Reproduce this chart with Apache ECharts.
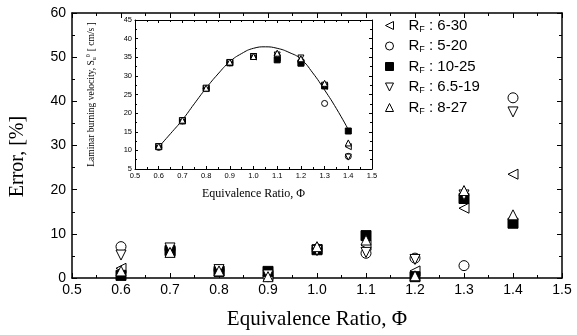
<!DOCTYPE html>
<html>
<head>
<meta charset="utf-8">
<script src="https://cdn.jsdelivr.net/npm/echarts@6/dist/echarts.min.js"></script>
<style>
  html, body { margin: 0; padding: 0; background: #fff; }
  #chart { width: 577px; height: 335px; }
</style>
</head>
<body>
<div id="chart"></div>
<script>
// equivalence ratio values shared by every series
const phi = [0.6, 0.7, 0.8, 0.9, 1.0, 1.1, 1.2, 1.3, 1.4];

// error [%] (main chart)
const err630 = [2.2, 6.0, 1.6, 0.5, 6.5, 7.4, 1.6, 15.8, 23.5];
const err520 = [7.1, 6.5, 1.8, 0.3, 6.6, 5.6, 4.5, 2.8, 40.8];
const err1025 = [0.6, 6.2, 1.5, 1.5, 6.4, 9.6, 0.3, 18.0, 12.4];
const err6519 = [5.2, 6.8, 1.9, 0.7, 6.2, 5.8, 4.2, 18.8, 37.6];
const err827 = [1.6, 5.8, 1.6, 0.3, 7.1, 8.6, 0.5, 19.8, 14.3];

// laminar burning velocity [cm/s] (inset)
const sl630 = [11.0, 18.0, 26.7, 33.6, 35.1, 34.8, 33.6, 27.2, 11.0];
const sl520 = [10.8, 17.9, 26.6, 33.5, 35.2, 35.5, 34.0, 22.6, 8.4];
const sl1025 = [11.0, 17.9, 26.6, 33.5, 35.2, 34.3, 33.4, 27.3, 15.2];
const sl6519 = [11.0, 18.0, 26.7, 33.6, 35.1, 35.6, 34.8, 27.5, 8.2];
const sl827 = [11.1, 18.1, 26.7, 33.7, 35.2, 36.1, 34.6, 28.0, 12.0];

// reference curve in the inset
const curvePhi = [0.6, 0.65, 0.7, 0.75, 0.8, 0.85, 0.9, 0.95, 1.0, 1.05, 1.1, 1.15, 1.2, 1.25, 1.3, 1.35, 1.4];
const curveS = [10.9, 14.5, 18.2, 22.5, 26.7, 30.5, 33.8, 36.0, 37.4, 37.8, 37.4, 36.3, 34.5, 30.8, 26.2, 21.2, 15.6];

const groups = [
  { name: "6-30", err: err630, sl: sl630, symbol: "path://M10,0 L0,5 L10,10 Z", fill: "#fff" },
  { name: "5-20", err: err520, sl: sl520, symbol: "circle", fill: "#fff" },
  { name: "10-25", err: err1025, sl: sl1025, symbol: "rect", fill: "#000" },
  { name: "6.5-19", err: err6519, sl: sl6519, symbol: "path://M0,0 L10,0 L5,10 Z", fill: "#fff" },
  { name: "8-27", err: err827, sl: sl827, symbol: "path://M5,0 L10,10 L0,10 Z", fill: "#fff" },
];

const zip = (xs, ys) => xs.map((x, i) => [x, ys[i]]);
const sans = "Liberation Sans, Arial, sans-serif";
const serif = "Liberation Serif, Times New Roman, serif";

const xAxisBase = (grid, big, pos) => ({
  gridIndex: grid,
  type: "value",
  position: pos,
  min: 0.5,
  max: 1.5,
  interval: 0.1,
  axisLine: { onZero: false, lineStyle: { color: "#000", width: big ? 1.5 : 1 } },
  axisTick: { inside: true, length: big ? 5 : 3, lineStyle: { color: "#000" } },
  minorTick: { show: true, splitNumber: 2, length: big ? 3 : 2, lineStyle: { color: "#000" } },
  splitLine: { show: false },
  axisLabel: {
    show: pos === "bottom",
    color: "#000",
    fontFamily: sans,
    fontSize: big ? 14 : 7.5,
    margin: big ? 5 : 3,
    formatter: (v) => v.toFixed(1),
  },
});

const yAxisBase = (grid, big, pos, min, max, interval) => ({
  gridIndex: grid,
  type: "value",
  position: pos,
  min: min,
  max: max,
  interval: interval,
  axisLine: { onZero: false, lineStyle: { color: "#000", width: big ? 1.5 : 1 } },
  axisTick: { inside: true, length: big ? 5 : 3, lineStyle: { color: "#000" } },
  minorTick: { show: true, splitNumber: 2, length: big ? 3 : 2, lineStyle: { color: "#000" } },
  splitLine: { show: false },
  axisLabel: {
    show: pos === "left",
    color: "#000",
    fontFamily: sans,
    fontSize: big ? 14 : 7.5,
    margin: big ? 6 : 3,
  },
});

const series = [];
groups.forEach((g) => {
  series.push({
    name: g.name,
    type: "scatter",
    xAxisIndex: 0,
    yAxisIndex: 0,
    symbol: g.symbol,
    symbolSize: 10,
    itemStyle: { color: g.fill, borderColor: "#000", borderWidth: 1, opacity: 1 },
    data: zip(phi, g.err),
    z: 3,
  });
});
series.push({
  name: "fit",
  type: "line",
  xAxisIndex: 2,
  yAxisIndex: 2,
  smooth: true,
  showSymbol: false,
  lineStyle: { color: "#000", width: 1 },
  data: zip(curvePhi, curveS),
  z: 5,
});
groups.forEach((g) => {
  series.push({
    name: g.name,
    type: "scatter",
    xAxisIndex: 2,
    yAxisIndex: 2,
    symbol: g.symbol,
    symbolSize: 6,
    itemStyle: { color: g.fill, borderColor: "#000", borderWidth: 1, opacity: 1 },
    data: zip(phi, g.sl),
    z: 6,
  });
});

const chart = echarts.init(document.getElementById("chart"), null, { renderer: "canvas" });
chart.setOption({
  backgroundColor: "#fff",
  animation: false,
  grid: [
    { left: 67, right: 15, top: 13, bottom: 44 },
    { left: 135, top: 20, width: 237, height: 149, show: true, backgroundColor: "#fff", borderWidth: 0, z: 4 },
  ],
  xAxis: [
    Object.assign(xAxisBase(0, true, "bottom"), {
      name: "Equivalence Ratio, \u03A6",
      nameLocation: "middle",
      nameGap: 31,
      nameTextStyle: { color: "#000", fontFamily: serif, fontSize: 21 },
    }),
    xAxisBase(0, true, "top"),
    Object.assign(xAxisBase(1, false, "bottom"), {
      name: "Equivalence Ratio, \u03A6",
      nameLocation: "middle",
      nameGap: 19,
      nameTextStyle: { color: "#000", fontFamily: serif, fontSize: 12 },
      z: 5,
    }),
    Object.assign(xAxisBase(1, false, "top"), { z: 5 }),
  ],
  yAxis: [
    Object.assign(yAxisBase(0, true, "left", 0, 60, 10), {
      name: "Error, [%]",
      nameLocation: "middle",
      nameGap: 44,
      nameTextStyle: { color: "#000", fontFamily: serif, fontSize: 20, padding: [0, 22, 0, 0] },
    }),
    yAxisBase(0, true, "right", 0, 60, 10),
    Object.assign(yAxisBase(1, false, "left", 5, 45, 5), {
      name: "{t|Laminar burning velocity, S}{s|u}{p|0}{t|[ cm/s ]}",
      nameLocation: "middle",
      nameGap: 38,
      nameTextStyle: {
        color: "#000",
        rich: {
          t: { fontFamily: serif, fontSize: 9.5, color: "#000" },
          s: { fontFamily: serif, fontSize: 6, color: "#000", padding: [6, 0, 0, 0] },
          p: { fontFamily: serif, fontSize: 6, color: "#000", padding: [0, 3, 6, 0] },
        },
      },
      z: 5,
    }),
    Object.assign(yAxisBase(1, false, "right", 5, 45, 5), { z: 5 }),
  ],
  legend: {
    orient: "vertical",
    left: 380,
    top: 12,
    itemWidth: 8,
    itemHeight: 8,
    itemGap: 3.5,
    data: groups.map((g) => g.name),
    itemStyle: { borderColor: "#000", borderWidth: 1 },
    formatter: (n) => "{r|R}{s|F}{r| : " + n + "}",
    textStyle: {
      padding: [0, 0, 0, 10],
      rich: {
        r: { fontFamily: sans, fontSize: 15, color: "#000", lineHeight: 17 },
        s: { fontFamily: sans, fontSize: 9, color: "#000", lineHeight: 17, padding: [8, 0, 0, 0] },
      },
    },
  },
  series: series,
});
</script>
</body>
</html>
